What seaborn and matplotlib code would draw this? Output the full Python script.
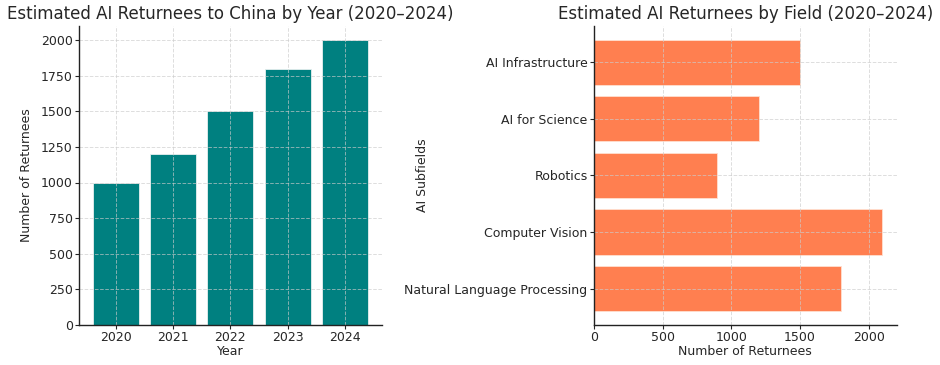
import matplotlib
matplotlib.use("Agg")
import matplotlib.pyplot as plt
import seaborn as sns
import pandas as pd

# data
years = ["2020", "2021", "2022", "2023", "2024"]
returnees_by_year = [1000, 1200, 1500, 1800, 2000]

fields = ["Natural Language Processing", "Computer Vision", "Robotics",
          "AI for Science", "AI Infrastructure"]
returnees_by_field = [1800, 2100, 900, 1200, 1500]

sns.set_style("whitegrid", {"grid.linestyle": "--", "grid.color": "#d0d0d0",
                            "axes.edgecolor": "#222222"})
plt.rcParams["font.family"] = ["DejaVu Sans"]
plt.rcParams["text.color"] = "#262626"
plt.rcParams["axes.labelcolor"] = "#262626"
plt.rcParams["xtick.color"] = "#262626"
plt.rcParams["ytick.color"] = "#262626"

df_year = pd.DataFrame({"Year": years, "Returnees": returnees_by_year})
df_field = pd.DataFrame({"Field": fields, "Returnees": returnees_by_field})

fig, (ax1, ax2) = plt.subplots(1, 2, figsize=(9.4, 3.65), dpi=100)
fig.subplots_adjust(left=0.084, right=0.954, top=0.929, bottom=0.110, wspace=0.70)

# left: returnees per year
sns.barplot(data=df_year, x="Year", y="Returnees", color="#008080",
            saturation=1, width=0.8, edgecolor="#e8f0f0", linewidth=0.6, ax=ax1)
ax1.set_xlim(-0.64, 4.64)
ax1.set_ylim(0, 2100)
ax1.set_title("Estimated AI Returnees to China by Year (2020\u20132024)",
              fontsize=12, pad=5)
ax1.set_xlabel("Year", fontsize=9, labelpad=1)
ax1.set_ylabel("Number of Returnees", fontsize=9, labelpad=6)

# right: returnees per field (first field at the bottom)
sns.barplot(data=df_field, y="Field", x="Returnees", order=fields[::-1],
            color="#FF7F50", saturation=1, width=0.8, orient="h",
            edgecolor="#ffe0d0", linewidth=0.6, ax=ax2)
ax2.set_ylim(4.64, -0.64)
ax2.set_xlim(0, 2205)
ax2.set_title("Estimated AI Returnees by Field (2020\u20132024)",
              fontsize=12, pad=5)
ax2.set_xlabel("Number of Returnees", fontsize=9, labelpad=1)
ax2.set_ylabel("AI Subfields", fontsize=9)
ax2.yaxis.set_label_coords(-0.545, 0.5)

for ax in (ax1, ax2):
    ax.set_axisbelow(False)
    ax.grid(True, linestyle="--", color="#cccccc", linewidth=0.7, alpha=0.65)
    ax.tick_params(labelsize=9, length=3, width=0.8, pad=1.5,
                   left=True, bottom=True)
    sns.despine(ax=ax)
    for s in ("left", "bottom"):
        ax.spines[s].set_linewidth(1.0)
        ax.spines[s].set_zorder(4)

fig.savefig("out.png", dpi=100)
